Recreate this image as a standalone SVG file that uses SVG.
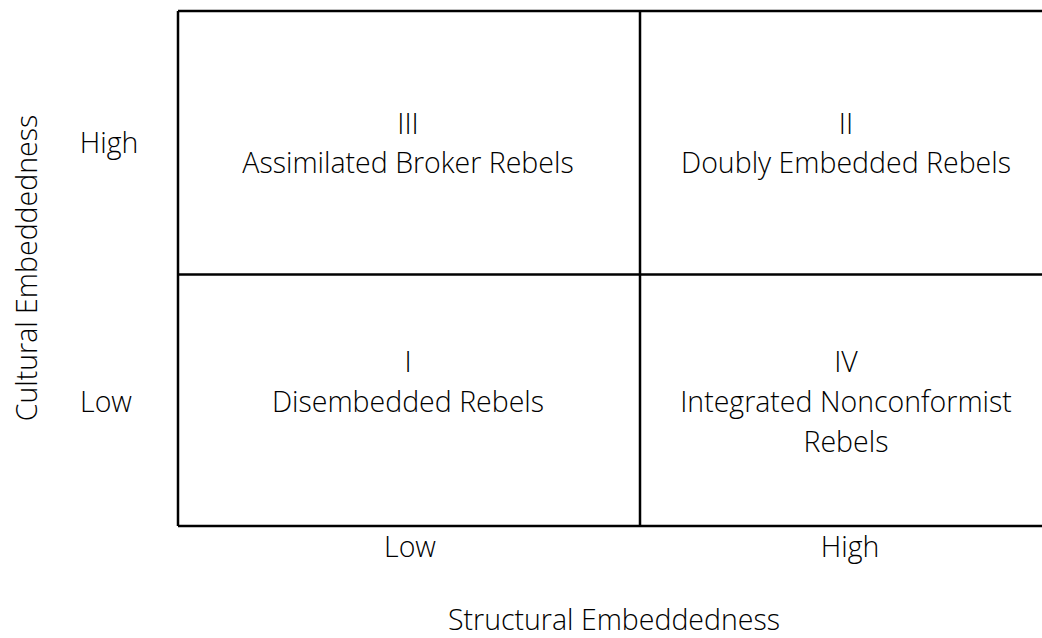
<svg xmlns="http://www.w3.org/2000/svg" width="1042" height="638" viewBox="0 0 1042 638">
<style>
text{font-family:"Open Sans","Liberation Sans",sans-serif;font-weight:300;font-size:28.5px;fill:#000;text-anchor:middle}
.ln{stroke:#000;stroke-width:2.5;fill:none}
</style>
<rect width="1042" height="638" fill="#fff"/>
<g id="grid">
<path class="ln" d="M178,11 H1042 M178,11 V526 M178,526 H1042 M178,274.5 H1042 M640,11 V526"/>
</g>
<g id="q3"><text x="408" y="134">III</text><text x="408" y="173">Assimilated Broker Rebels</text></g>
<g id="q2"><text x="846" y="134">II</text><text x="846" y="173">Doubly Embedded Rebels</text></g>
<g id="q1"><text x="408" y="372">I</text><text x="408" y="412">Disembedded Rebels</text></g>
<g id="q4"><text x="846" y="372">IV</text><text x="846" y="412">Integrated Nonconformist</text><text x="846" y="452">Rebels</text></g>
<g id="axes">
<text x="109" y="153">High</text>
<text x="106" y="412">Low</text>
<text x="410" y="557">Low</text>
<text x="850" y="557">High</text>
<text x="614" y="630">Structural Embeddedness</text>
<text transform="translate(37,268) rotate(-90)">Cultural Embeddedness</text>
</g>
</svg>
